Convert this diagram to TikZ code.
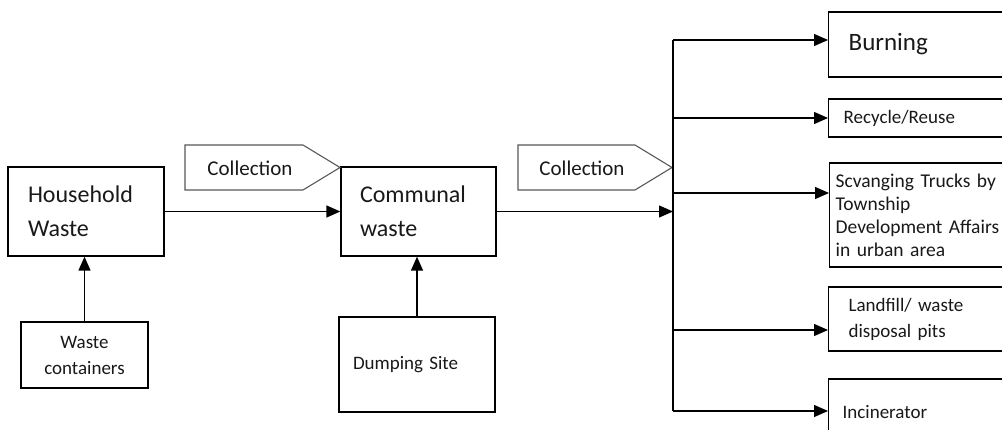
\documentclass[tikz,border=0pt]{standalone}
\usepackage{fontspec}
\setmainfont[WordSpace=0.7]{Carlito}
\usetikzlibrary{arrows.meta}
\begin{document}
\begin{tikzpicture}[x=1pt,y=-1pt,
  box/.style={draw=black, line width=1.3pt, inner ysep=0pt, align=left, text=black!90},
  rbox/.style={box, anchor=west},
  arr/.style={line width=1.3pt, -{Triangle[length=14pt,width=12pt]}},
  link/.style={line width=1.3pt},
  tag/.style={draw=black!65, line width=1.1pt},
  big/.style={font=\fontsize{24}{34}\selectfont},
  mid/.style={font=\fontsize{21}{25}\selectfont, text=black!90},
  small/.style={font=\fontsize{19}{26}\selectfont}]

% page frame
\clip (0,0) rectangle (1002,430);
\fill[white] (0,0) rectangle (1002,430);

% sources and collection points
\node[box,big, minimum width=156, minimum height=89, text width=116, inner xsep=20] (hw) at (86,211.5) {Household\\Waste};
\node[box,small,align=center, minimum width=127, minimum height=66, text width=107, inner xsep=10] (wc) at (84.5,355) {Waste\\containers};
\node[box,big, minimum width=155, minimum height=89, text width=117, inner xsep=19] (cw) at (418.5,211.5) {Communal\\waste};
\node[box,small, minimum width=156, minimum height=95, text width=128, inner xsep=14] (ds) at (417,364.5) {Dumping Site};

% collection tags
\node[mid] (c1) at (250,168) {Collection};
\draw[tag] (185,145) -- (303,145) -- (340,167.5) -- (303,190) -- (185,190) -- cycle;
\node[mid] (c2) at (582,168) {Collection};
\draw[tag] (518,145) -- (635,145) -- (672,167.5) -- (635,190) -- (518,190) -- cycle;

% distribution spine
\coordinate (hub) at (673,211.5);
\coordinate (s1) at (673,40);
\coordinate (s2) at (673,118);
\coordinate (s3) at (673,193);
\coordinate (s4) at (673,330);
\coordinate (s5) at (673,411);
\draw[link] (s1) -- (s5);

% disposal routes
\node[rbox,font=\fontsize{25}{30}\selectfont, minimum height=65, text width=180, inner xsep=20] (burn) at (828,44.5) {\raisebox{3pt}{Burning}};
\node[rbox,small, minimum height=38, text width=190, inner xsep=15] (rec) at (828,118) {\raisebox{3pt}{Recycle/Reuse}};
\node[rbox,font=\fontsize{19.5}{23}\selectfont, minimum height=104, text width=200, inner xsep=6] (scv) at (829,215) {Scvanging Trucks by\\Township\\Development Affairs\\in urban area};
\node[rbox,small, minimum height=64, text width=180, inner xsep=20] (land) at (828,319) {Landfill/ waste\\disposal pits};
\node[rbox,small, minimum height=66, text width=190, inner xsep=14] (inc) at (828,412) {Incinerator};

% connectors
\draw[arr] (hw.east) -- (cw.west);
\draw[arr] (wc.north) -- (wc.north |- hw.south);
\draw[arr] (ds.north) -- (ds.north |- cw.south);
\draw[arr] (cw.east) -- (hub);
\draw[arr] (s1) -- (s1 -| burn.west);
\draw[arr] (s2) -- (s2 -| rec.west);
\draw[arr] (s3) -- (s3 -| scv.west);
\draw[arr] (s4) -- (s4 -| land.west);
\draw[arr] (s5) -- (s5 -| inc.west);
\end{tikzpicture}
\end{document}
